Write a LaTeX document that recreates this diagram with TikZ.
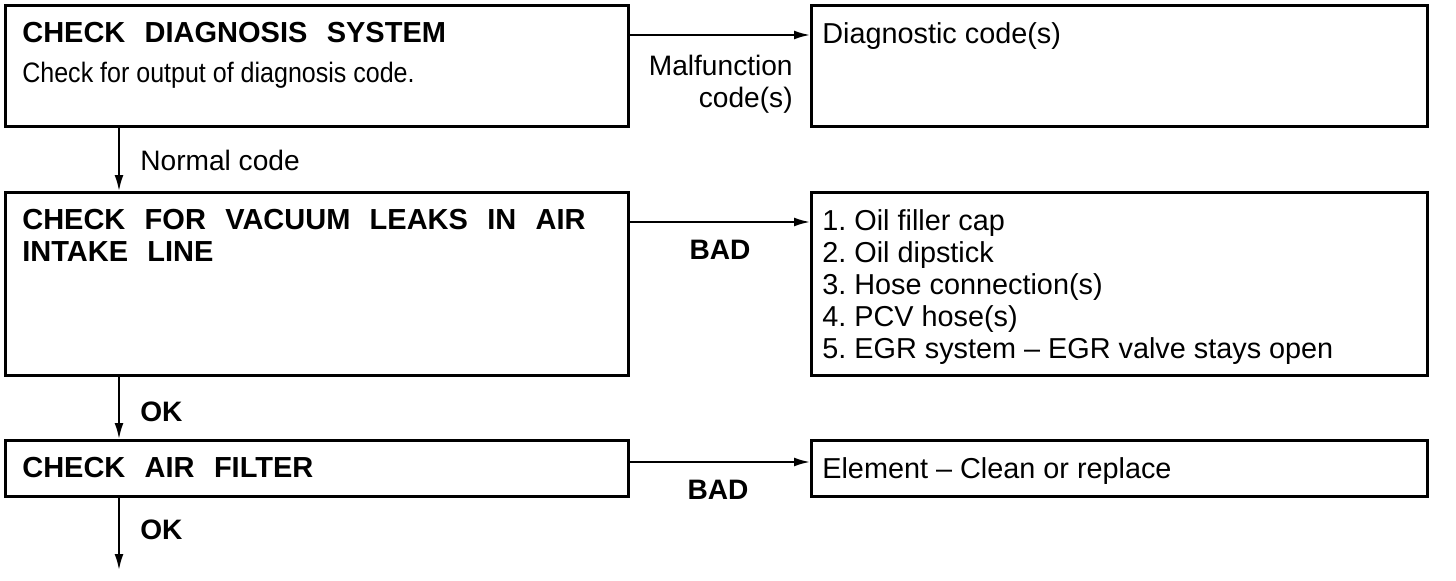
\documentclass[tikz,border=0pt]{standalone}
\usepackage{fontspec}
\setmainfont{Liberation Sans}
\newfontfamily\headfont[WordSpace=2.4]{Liberation Sans}
\newfontfamily\condfont[FakeStretch=0.89]{Liberation Sans}
\usetikzlibrary{arrows.meta,positioning}
\frenchspacing

\begin{document}
\begin{tikzpicture}[
    stepbox/.style={rectangle, draw=black, line width=1.7pt, anchor=north west,
                    inner sep=0pt},
    headtxt/.style={anchor=north west, inner sep=0pt, align=left,
                    font=\fontsize{16.5}{18}\headfont\bfseries},
    bodytxt/.style={anchor=north west, inner sep=0pt, align=left,
                    font=\fontsize{16.4}{18.2}\selectfont},
    flowlbl/.style={inner sep=0pt, font=\fontsize{16}{18.2}\selectfont},
    flow/.style={line width=1.1pt, -{Latex[length=9pt,width=5pt]}}
  ]
    \useasboundingbox (0,0) rectangle (29.12,11.6);

    % Step 1: diagnosis system
    \node[stepbox, minimum width=12.46cm, minimum height=2.42cm] (diag)  at (0.08,11.52) {};
    \node[stepbox, minimum width=12.32cm, minimum height=2.42cm] (codes) at (16.2,11.52) {};
    \node[headtxt] (diagtxt) at (0.44,11.16)
        {CHECK DIAGNOSIS SYSTEM\\[0.16cm]{\condfont\mdseries\fontsize{16}{18}\selectfont Check for output of diagnosis code.}};
    \node[bodytxt] (codestxt) at (16.44,11.16) {Diagnostic code(s)};
    \draw[flow] ([yshift=-0.62cm]diag.north east) -- ([yshift=-0.62cm]codes.north west);
    \node[flowlbl, anchor=north east, align=right] (malf) at (15.86,10.5) {Malfunction\\code(s)};

    % Step 2: vacuum leaks
    \node[stepbox, minimum width=12.46cm, minimum height=3.66cm] (vac)   at (0.08,7.78) {};
    \node[stepbox, minimum width=12.32cm, minimum height=3.66cm] (leaks) at (16.2,7.78) {};
    \node[headtxt] (vactxt) at (0.44,7.42) {CHECK FOR VACUUM LEAKS IN AIR\\INTAKE LINE};
    \node[bodytxt] (leakstxt) at (16.44,7.42)
        {1. Oil filler cap\\2. Oil dipstick\\3. Hose connection(s)\\4. PCV hose(s)\\
         5. EGR system \textendash\ EGR valve stays open};
    \draw[flow] ([xshift=2.3cm]diag.south west) -- ([xshift=2.3cm]vac.north west);
    \node[flowlbl, anchor=west] (normal) at (2.8,8.4) {Normal code};
    \draw[flow] ([yshift=-0.62cm]vac.north east) -- ([yshift=-0.62cm]leaks.north west);
    \node[flowlbl, font=\fontsize{16}{18}\selectfont\bfseries] (bad1) at (14.4,6.6) {BAD};

    % Step 3: air filter
    \node[stepbox, minimum width=12.46cm, minimum height=1.12cm] (filter) at (0.08,2.82) {};
    \node[stepbox, minimum width=12.32cm, minimum height=1.12cm] (elem)   at (16.2,2.82) {};
    \node[headtxt] (filtertxt) at (0.44,2.46) {CHECK AIR FILTER};
    \node[bodytxt] (elemtxt) at (16.44,2.46) {Element \textendash\ Clean or replace};
    \draw[flow] ([xshift=2.3cm]vac.south west) -- ([xshift=2.3cm]filter.north west);
    \node[flowlbl, anchor=west, font=\fontsize{16}{18}\selectfont\bfseries] (ok1) at (2.8,3.36) {OK};
    \draw[flow] ([yshift=-0.46cm]filter.north east) -- ([yshift=-0.46cm]elem.north west);
    \node[flowlbl, font=\fontsize{16}{18}\selectfont\bfseries] (bad2) at (14.36,1.8) {BAD};

    % next step
    \coordinate (next) at (2.38,0.2);
    \draw[flow] ([xshift=2.3cm]filter.south west) -- (next);
    \node[flowlbl, anchor=west, font=\fontsize{16}{18}\selectfont\bfseries] (ok2) at (2.8,1.0) {OK};
  \end{tikzpicture}
\end{document}
